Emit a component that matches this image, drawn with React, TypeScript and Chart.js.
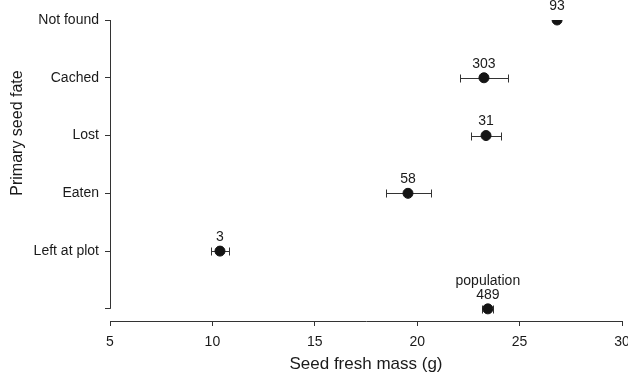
import React, { useEffect, useRef } from "react";
import { Chart, registerables } from "chart.js";

Chart.register(...registerables);

const categories = ["Not found", "Cached", "Lost", "Eaten", "Left at plot", ""];
const means = [26.83, 23.26, 23.36, 19.55, 10.37, 23.45];
const lower = [26.83, 22.1, 22.65, 18.5, 9.93, 23.17];
const upper = [26.83, 24.42, 24.1, 20.66, 10.8, 23.72];
const counts = ["93", "303", "31", "58", "3", "489"];
const extraLabels = ["", "", "", "", "", "population"];
const xTicks = [5, 10, 15, 20, 25, 30];
const yTitle = "Primary seed fate";
const xTitle = "Seed fresh mass (g)";

const FONT = "'Liberation Sans', Arial, Helvetica, sans-serif";
const INK = "#1a1a1a";
const LINE = "#333";

const errorBarPlugin = {
  id: "errorBars",
  beforeDatasetsDraw(chart: any) {
    const { ctx, scales } = chart;
    const xs = scales.x;
    const ys = scales.y;
    ctx.save();
    ctx.strokeStyle = LINE;
    ctx.lineWidth = 1;
    for (let i = 0; i < means.length; i++) {
      if (upper[i] - lower[i] <= 0) continue;
      const y = Math.round(ys.getPixelForValue(i)) + 0.5;
      const x1 = Math.round(xs.getPixelForValue(lower[i])) + 0.5;
      const x2 = Math.round(xs.getPixelForValue(upper[i])) + 0.5;
      ctx.beginPath();
      ctx.moveTo(x1, y);
      ctx.lineTo(x2, y);
      ctx.moveTo(x1, y - 4);
      ctx.lineTo(x1, y + 4);
      ctx.moveTo(x2, y - 4);
      ctx.lineTo(x2, y + 4);
      ctx.stroke();
    }
    // y axis line spanning only the category range
    const left = Math.round(chart.chartArea.left) + 0.5;
    ctx.beginPath();
    ctx.moveTo(left, ys.getPixelForValue(0));
    ctx.lineTo(left, ys.getPixelForValue(categories.length - 1));
    ctx.stroke();
    ctx.restore();
  },
  afterDatasetsDraw(chart: any) {
    const { ctx, scales } = chart;
    const xs = scales.x;
    const ys = scales.y;
    ctx.save();
    ctx.fillStyle = INK;
    ctx.font = `14px ${FONT}`;
    ctx.textAlign = "center";
    ctx.textBaseline = "middle";
    for (let i = 0; i < means.length; i++) {
      const x = xs.getPixelForValue(means[i]);
      const y = ys.getPixelForValue(i);
      ctx.fillText(counts[i], x, y - 14);
      if (extraLabels[i]) ctx.fillText(extraLabels[i], x, y - 28);
    }
    // y axis title, centred a little above the plot middle as in the source figure
    ctx.font = `16px ${FONT}`;
    ctx.translate(18, 133);
    ctx.rotate(-Math.PI / 2);
    ctx.fillText(yTitle, 0, 0);
    ctx.restore();
  },
};

export default function App() {
  const ref = useRef<HTMLCanvasElement | null>(null);
  useEffect(() => {
    document.body.style.margin = "0";
    if (!ref.current) return;
    const chart = new Chart(ref.current, {
      type: "scatter",
      data: {
        datasets: [
          {
            data: means.map((m, i) => ({ x: m, y: i })),
            backgroundColor: "#141414",
            borderColor: "#141414",
            pointRadius: 5,
            pointHoverRadius: 5,
          },
        ],
      },
      options: {
        animation: false,
        responsive: false,
        devicePixelRatio: 1,
        layout: { padding: { top: 20, right: 6, left: 0, bottom: 0 } },
        plugins: { legend: { display: false }, tooltip: { enabled: false } },
        scales: {
          x: {
            type: "linear",
            min: 5,
            max: 30,
            afterBuildTicks: (s: any) => {
              s.ticks = xTicks.map((v) => ({ value: v }));
            },
            afterFit: (s: any) => {
              s.height = 57;
              s.paddingRight = 0;
              s.paddingLeft = 0;
            },
            grid: { drawOnChartArea: false, drawTicks: true, tickLength: 5, color: LINE },
            border: { display: true, color: LINE, width: 1 },
            ticks: { font: { size: 14, family: FONT }, color: INK, padding: 8, maxRotation: 0 },
            title: {
              display: true,
              text: xTitle,
              font: { size: 17, family: FONT },
              color: INK,
              padding: { top: 0, bottom: 3 },
            },
          },
          y: {
            type: "linear",
            reverse: true,
            min: 0,
            max: 5.21,
            afterBuildTicks: (s: any) => {
              s.ticks = categories.map((_, i) => ({ value: i }));
            },
            afterFit: (s: any) => {
              s.width = 110;
            },
            grid: { drawOnChartArea: false, drawTicks: true, tickLength: 5, color: LINE },
            border: { display: false },
            ticks: {
              font: { size: 14, family: FONT },
              color: INK,
              padding: 6,
              autoSkip: false,
              callback: (v: any) => categories[v] ?? "",
            },
            title: { display: false },
          },
        },
      },
      plugins: [errorBarPlugin],
    });
    return () => chart.destroy();
  }, []);
  return (
    <div style={{ width: 628, height: 378 }}>
      <canvas ref={ref} width={628} height={378} />
    </div>
  );
}
